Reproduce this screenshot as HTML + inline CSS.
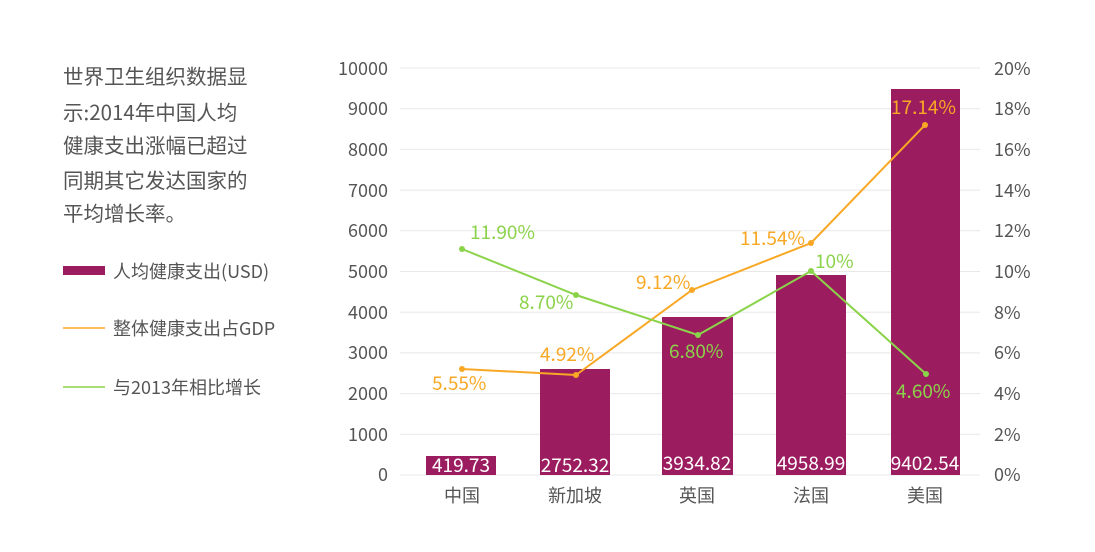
<!DOCTYPE html>
<html><head><meta charset="utf-8"><style>
body{margin:0;background:#fff;}
svg text{font-family:"Noto Sans CJK SC","Liberation Sans",sans-serif;}
</style></head><body>
<svg width="1095" height="547" xmlns="http://www.w3.org/2000/svg">
<g fill="#555" font-size="20.5">
<text x="63" y="84">世界卫生组织数据显</text>
<text x="63" y="120">示:2014年中国人均</text>
<text x="63" y="153">健康支出涨幅已超过</text>
<text x="63" y="188">同期其它发达国家的</text>
<text x="63" y="221">平均增长率。</text>
</g>
<rect x="63" y="266" width="42" height="9" fill="#9b1d5f"/>
<line x1="63" y1="328" x2="105" y2="328" stroke="#f9a825" stroke-width="1.5"/>
<line x1="63" y1="387" x2="105" y2="387" stroke="#8bd34a" stroke-width="1.5"/>
<g fill="#555" font-size="18">
<text x="113" y="278">人均健康支出(USD)</text>
<text x="113" y="335">整体健康支出占GDP</text>
<text x="113" y="394">与2013年相比增长</text>
</g>
<g stroke="#e8e8e8" stroke-width="1">
<line x1="400" y1="68" x2="980" y2="68"/><line x1="400" y1="108.7" x2="980" y2="108.7"/>
<line x1="400" y1="149.4" x2="980" y2="149.4"/><line x1="400" y1="190.1" x2="980" y2="190.1"/>
<line x1="400" y1="230.8" x2="980" y2="230.8"/><line x1="400" y1="271.5" x2="980" y2="271.5"/>
<line x1="400" y1="312.2" x2="980" y2="312.2"/><line x1="400" y1="352.9" x2="980" y2="352.9"/>
<line x1="400" y1="393.6" x2="980" y2="393.6"/><line x1="400" y1="434.3" x2="980" y2="434.3"/>
<line x1="400" y1="475" x2="980" y2="475"/>
</g>
<g fill="#555" font-size="18" text-anchor="end">
<text x="388" y="75">10000</text><text x="388" y="115">9000</text><text x="388" y="156">8000</text>
<text x="388" y="197">7000</text><text x="388" y="237">6000</text><text x="388" y="278">5000</text>
<text x="388" y="319">4000</text><text x="388" y="359">3000</text><text x="388" y="400">2000</text>
<text x="388" y="441">1000</text><text x="388" y="481">0</text>
</g>
<g fill="#555" font-size="18">
<text x="994" y="75">20%</text><text x="994" y="115">18%</text><text x="994" y="156">16%</text>
<text x="994" y="197">14%</text><text x="994" y="237">12%</text><text x="994" y="278">10%</text>
<text x="994" y="319">8%</text><text x="994" y="359">6%</text><text x="994" y="400">4%</text>
<text x="994" y="441">2%</text><text x="994" y="481">0%</text>
</g>
<g fill="#9b1d5f">
<rect x="426" y="456" width="70" height="19"/>
<rect x="540" y="369" width="70" height="106"/>
<rect x="662" y="317" width="71" height="158"/>
<rect x="776" y="275" width="70" height="200"/>
<rect x="891" y="89" width="69" height="386"/>
</g>
<g fill="#fff" font-size="19" text-anchor="middle">
<text x="461" y="472">419.73</text><text x="575" y="472">2752.32</text>
<text x="697" y="470">3934.82</text><text x="811" y="470">4958.99</text><text x="925" y="470">9402.54</text>
</g>
<g fill="#555" font-size="18" text-anchor="middle">
<text x="462" y="502">中国</text><text x="575" y="502">新加坡</text><text x="697" y="502">英国</text>
<text x="811" y="502">法国</text><text x="925" y="502">美国</text>
</g>
<polyline points="462,369 576,375 692,290 811,243 925,125" fill="none" stroke="#f9a825" stroke-width="2"/>
<g fill="#f9a825"><circle cx="462" cy="369" r="3"/><circle cx="576" cy="375" r="3"/><circle cx="692" cy="290" r="3"/><circle cx="811" cy="243" r="3"/><circle cx="925" cy="125" r="3"/></g>
<polyline points="462,249 576,295 698,335 811,271 926,374" fill="none" stroke="#8bd34a" stroke-width="2"/>
<g fill="#8bd34a"><circle cx="462" cy="249" r="3"/><circle cx="576" cy="295" r="3"/><circle cx="698" cy="335" r="3"/><circle cx="811" cy="271" r="3"/><circle cx="926" cy="374" r="3"/></g>
<g fill="#f9a825" font-size="19">
<text x="432" y="390">5.55%</text><text x="540" y="361">4.92%</text><text x="636" y="289">9.12%</text>
<text x="740" y="245">11.54%</text><text x="891" y="114">17.14%</text>
</g>
<g fill="#8bd34a" font-size="19">
<text x="470" y="239">11.90%</text><text x="519" y="309">8.70%</text><text x="669" y="358">6.80%</text>
<text x="815" y="268">10%</text><text x="896" y="398">4.60%</text>
</g>
</svg>
</body></html>
